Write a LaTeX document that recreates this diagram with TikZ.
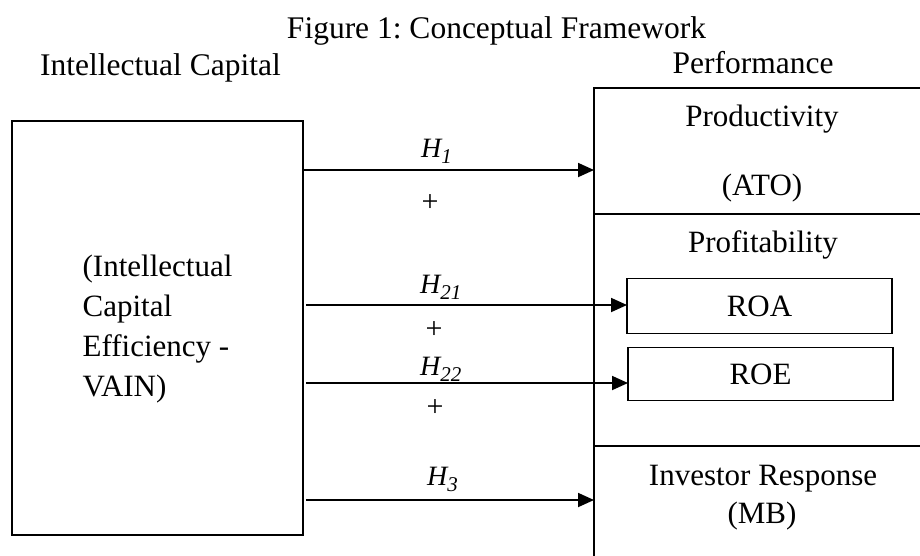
\documentclass[tikz,border=0pt]{standalone}
\usepackage{fontspec}
\setmainfont{Liberation Serif}
\usetikzlibrary{arrows.meta}
\frenchspacing
% lowered subscript for the hypothesis labels
\newcommand\hsub[1]{\raisebox{-0.22em}{\fontsize{21}{21}\selectfont #1}}
\begin{document}
\begin{tikzpicture}[x=1pt,y=-1pt,
  frame/.style={draw, line width=1.8pt, inner sep=0pt, outer sep=0pt},
  heading/.style={font=\fontsize{31.5}{38}\selectfont, inner sep=0pt, anchor=base},
  celltext/.style={font=\fontsize{31}{40}\selectfont, inner sep=0pt, anchor=base},
  hyp/.style={font=\fontsize{28}{32}\selectfont\itshape, inner sep=0pt, anchor=base west},
  sign/.style={font=\fontsize{30}{32}\selectfont, inner sep=0pt},
  link/.style={line width=1.8pt, -{Triangle[length=16pt,width=14pt]}}
]
\useasboundingbox (0,0) rectangle (920,555);

% headings
\node[heading] (title) at (496.5,38) {Figure 1: Conceptual Framework};
\node[heading, anchor=base west] (ichead) at (40,75) {Intellectual Capital};
\node[heading] (perfhead) at (753,73) {Performance};

% independent variable
\node[frame, minimum width=291pt, minimum height=414pt, anchor=north west] (vain) at (12,121) {};
\node[celltext, align=left, anchor=center] (vaintext) at (157.5,329)
  {(Intellectual\\Capital\\Efficiency -\\VAIN)};

% performance column (runs past the right and bottom edges)
\node[frame, minimum width=340pt, minimum height=126pt, anchor=north west] (prod) at (594,88) {};
\node[frame, minimum width=340pt, minimum height=232pt, anchor=north west] (prof) at (594,214) {};
\node[frame, minimum width=340pt, minimum height=140pt, anchor=north west] (inv) at (594,446) {};

\node[celltext] (prodt) at (762,126) {Productivity};
\node[celltext] (atot) at (762,195) {(ATO)};
\node[celltext] (proft) at (763,252) {Profitability};
\node[celltext] (invt) at (763,485) {Investor Response};
\node[celltext] (mbt) at (762,523) {(MB)};

\node[frame, minimum width=265pt, minimum height=55pt, font=\fontsize{31}{40}\selectfont] (roa) at (759.5,306) {ROA};
\node[frame, minimum width=265pt, minimum height=53pt, font=\fontsize{31}{40}\selectfont] (roe) at (760.5,374) {ROE};

% hypothesised links
\draw[link] (vain.east |- 0,170) -- (prod.west |- 0,170);
\draw[link] ([xshift=3pt]vain.east |- 0,305) -- (roa.west |- 0,305);
\draw[link] ([xshift=3pt]vain.east |- 0,383) -- (roe.west |- 0,383);
\draw[link] ([xshift=3pt]vain.east |- 0,500) -- (inv.west |- 0,500);

\node[hyp] (h1) at (421,157) {H\hsub{1}};
\node[sign] (s1) at (430,203) {+};
\node[hyp] (h21) at (420,293) {H\hsub{21}};
\node[sign] (s21) at (434,330) {+};
\node[hyp] (h22) at (420,375) {H\hsub{22}};
\node[sign] (s22) at (435,408) {+};
\node[hyp] (h3) at (427,485) {H\hsub{3}};
\end{tikzpicture}
\end{document}
